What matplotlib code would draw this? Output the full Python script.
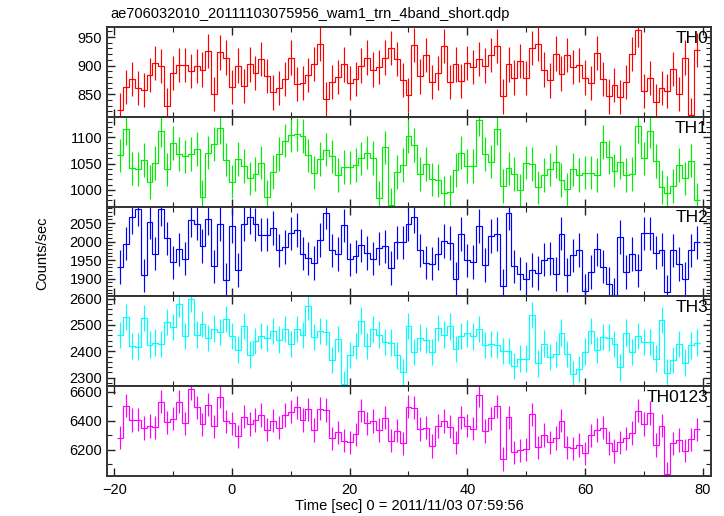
import numpy as np
import matplotlib
matplotlib.use("Agg")
import matplotlib.pyplot as plt
from matplotlib.ticker import MultipleLocator

plt.rcParams['font.family'] = ['Liberation Sans', 'DejaVu Sans']

# bin centres [sec], 1 s bins
time = np.arange(-19, 80)

th0 = [822, 862, 876, 861, 857, 883, 904, 899, 830, 887,
       901, 901, 891, 899, 893, 926, 850, 923, 914, 862,
       900, 864, 902, 887, 911, 882, 853, 861, 876, 914,
       868, 870, 883, 903, 938, 841, 871, 880, 902, 869,
       876, 900, 914, 893, 897, 914, 931, 912, 875, 848,
       936, 881, 918, 871, 887, 934, 871, 902, 873, 904,
       898, 911, 900, 918, 934, 846, 902, 879, 908, 878,
       931, 938, 893, 874, 921, 886, 919, 898, 901, 879,
       870, 922, 876, 846, 866, 845, 871, 920, 963, 855,
       878, 837, 861, 856, 894, 850, 914, 813, 927]

th1 = [1066, 1117, 1041, 1040, 1057, 1015, 1051, 1113, 1039, 1089,
       1068, 1064, 1069, 1078, 986, 1071, 1088, 1119, 1058, 1016,
       1059, 1046, 1022, 1030, 1052, 987, 1034, 1068, 1094, 1104,
       1106, 1103, 1066, 1033, 1059, 1077, 1064, 1028, 1044, 1043,
       1047, 1060, 1071, 1061, 985, 1081, 972, 1034, 1048, 1103,
       1086, 1030, 1049, 1020, 1018, 994, 996, 1038, 1071, 1046,
       1046, 1134, 1068, 1054, 1117, 1008, 1041, 1030, 999, 1052,
       1049, 1005, 1028, 1039, 1054, 1019, 1001, 1039, 1028, 1033,
       1033, 1028, 1091, 1063, 1037, 1053, 1028, 1030, 1122, 1060,
       1112, 1055, 1006, 994, 1008, 1047, 1022, 1056, 981]

th2 = [1931, 1994, 2066, 2087, 1909, 2052, 1967, 2087, 2009, 1944,
       1979, 1954, 2057, 2048, 1988, 2062, 1933, 2047, 1897, 2042,
       1923, 2047, 2065, 2046, 2019, 2019, 2037, 1976, 1985, 2022,
       2031, 1967, 1955, 1942, 2004, 2078, 1976, 1966, 2044, 1952,
       1960, 1990, 1969, 1954, 1982, 1987, 1929, 1998, 1998, 2047,
       2067, 1976, 1943, 1940, 1967, 2001, 1996, 1899, 2020, 1949,
       1945, 2042, 1937, 2015, 2020, 1881, 2076, 1933, 1913, 1900,
       1923, 1915, 1951, 1955, 1912, 2021, 1910, 1963, 1977, 1867,
       1918, 1979, 1932, 1886, 1857, 2012, 1918, 1966, 1922, 2022,
       2022, 1970, 1978, 1864, 1976, 1939, 1899, 1976, 1998]

th3 = [2462, 2529, 2420, 2418, 2527, 2425, 2433, 2427, 2510, 2492,
       2578, 2459, 2599, 2463, 2503, 2451, 2486, 2472, 2523, 2457,
       2406, 2495, 2387, 2439, 2458, 2451, 2476, 2444, 2484, 2427,
       2484, 2461, 2570, 2454, 2477, 2473, 2366, 2446, 2275, 2385,
       2420, 2516, 2420, 2484, 2463, 2434, 2433, 2384, 2320, 2496,
       2397, 2452, 2442, 2396, 2487, 2463, 2494, 2408, 2459, 2468,
       2456, 2484, 2423, 2427, 2425, 2401, 2401, 2343, 2372, 2372,
       2537, 2354, 2429, 2378, 2390, 2471, 2389, 2313, 2332, 2399,
       2477, 2404, 2454, 2452, 2427, 2339, 2471, 2397, 2459, 2434,
       2434, 2372, 2519, 2319, 2366, 2427, 2357, 2422, 2433]

th0123 = [6283, 6503, 6405, 6407, 6350, 6363, 6354, 6530, 6389, 6414,
          6530, 6382, 6619, 6491, 6375, 6510, 6361, 6565, 6395, 6382,
          6293, 6427, 6377, 6405, 6439, 6338, 6400, 6352, 6439, 6462,
          6491, 6405, 6478, 6336, 6482, 6473, 6279, 6320, 6263, 6251,
          6306, 6469, 6382, 6398, 6336, 6421, 6263, 6331, 6245, 6496,
          6489, 6343, 6352, 6226, 6363, 6398, 6359, 6249, 6423, 6366,
          6345, 6574, 6329, 6416, 6498, 6137, 6423, 6183, 6197, 6203,
          6443, 6217, 6302, 6251, 6281, 6400, 6217, 6210, 6233, 6176,
          6299, 6336, 6352, 6247, 6192, 6251, 6279, 6315, 6469, 6377,
          6453, 6233, 6366, 6034, 6245, 6267, 6194, 6272, 6341]

# typical 1-sigma error per band
errors = [30, 32, 45, 50, 80]

names = ['TH0', 'TH1', 'TH2', 'TH3', 'TH0123']
colors = ['#ff0000', '#00ee00', '#0000ff', '#00ffff', '#ff00ff']
ylims = [(810, 967), (968, 1139), (1852, 2094), (2268, 2608), (6021, 6638)]
ymajor = [50, 50, 50, 100, 200]
yminor = [10, 10, 10, 20, 100]


def main():
    fig, axes = plt.subplots(5, 1, sharex=True, figsize=(7.24, 5.16), dpi=100)
    fig.subplots_adjust(left=0.148, right=0.982, top=0.947, bottom=0.078,
                        hspace=0)

    series = [th0, th1, th2, th3, th0123]
    edges = np.append(time - 0.5, time[-1] + 0.5)

    for i, ax in enumerate(axes):
        vals = np.array(series[i], dtype=float)
        ax.stairs(vals, edges, baseline=None, color=colors[i], lw=0.85)
        ax.errorbar(time, vals, yerr=errors[i], fmt='none',
                    ecolor=colors[i], elinewidth=0.85, capsize=0)
        ax.set_ylim(*ylims[i])
        ax.set_xlim(-21.2, 81.4)
        ax.yaxis.set_major_locator(MultipleLocator(ymajor[i]))
        ax.yaxis.set_minor_locator(MultipleLocator(yminor[i]))
        ax.xaxis.set_major_locator(MultipleLocator(20))
        ax.xaxis.set_minor_locator(MultipleLocator(10))
        ax.tick_params(which='both', direction='in', top=True, right=True,
                       labelsize=10.5, colors='#222222', labelcolor='black')
        ax.tick_params(which='major', length=6, width=1)
        ax.tick_params(which='minor', length=3.5, width=0.8)
        for sp in ax.spines.values():
            sp.set_linewidth(1.4)
            sp.set_color('#333333')
        ax.text(0.995, 0.96, names[i], transform=ax.transAxes,
                ha='right', va='top', fontsize=12.5)

    axes[-1].set_xlabel('Time [sec] 0 = 2011/11/03 07:59:56', fontsize=10.5,
                        labelpad=2)
    axes[-1].tick_params(axis='x', pad=5)
    fig.text(0.058, 0.51, 'Counts/sec', rotation=90, ha='center',
             va='center', fontsize=10.5)
    fig.text(0.152, 0.973, 'ae706032010_20111103075956_wam1_trn_4band_short.qdp',
             ha='left', va='center', fontsize=10.5)

    fig.savefig('out.png', dpi=100)


if __name__ == '__main__':
    main()
